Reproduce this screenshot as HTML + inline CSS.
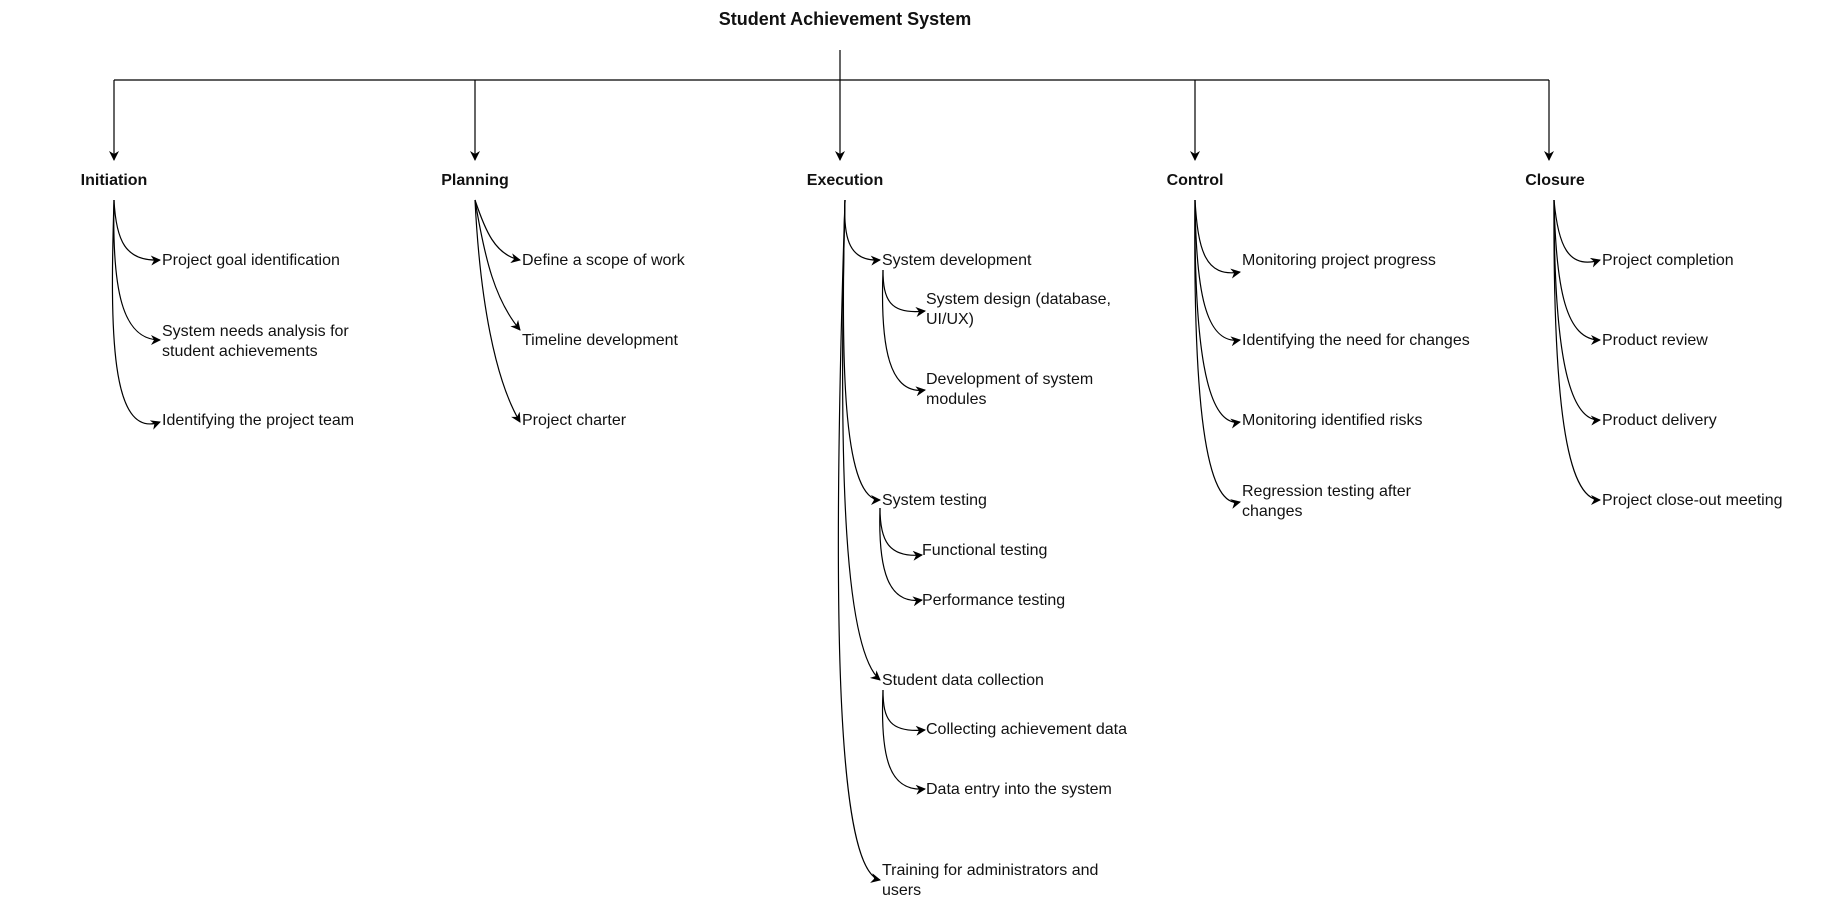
<!DOCTYPE html>
<html><head><meta charset="utf-8"><style>
html,body{margin:0;padding:0;background:#fff;}
svg{display:block;}
text{font-family:"Liberation Sans",Arial,sans-serif;font-size:16px;fill:#111;}
.b{font-weight:bold;}
</style></head><body>
<svg width="1830" height="900" viewBox="0 0 1830 900" xmlns="http://www.w3.org/2000/svg">
<defs>
<marker id="a" markerWidth="10" markerHeight="10" refX="9" refY="5" orient="auto" markerUnits="userSpaceOnUse">
<path d="M0,0 L10,5 L0,10 L3,5 z" fill="#000"/>
</marker>
</defs>
<g fill="none" stroke="#000" stroke-width="1.2">
<path d="M840 50 V160" marker-end="url(#a)"/>
<path d="M114 80 H1549"/>
<path d="M114 80 V160" marker-end="url(#a)"/>
<path d="M475 80 V160" marker-end="url(#a)"/>
<path d="M1195 80 V160" marker-end="url(#a)"/>
<path d="M1549 80 V160" marker-end="url(#a)"/>

<path d="M114 200 C116 240,125 262,160 260" marker-end="url(#a)"/>
<path d="M114 200 C112 290,122 340,160 340" marker-end="url(#a)"/>
<path d="M114 200 C110 330,110 440,160 422" marker-end="url(#a)"/>
<path d="M475 200 C485 230,495 255,520 260" marker-end="url(#a)"/>
<path d="M475 200 C485 260,495 300,520 330" marker-end="url(#a)"/>
<path d="M475 200 C480 300,495 380,520 422" marker-end="url(#a)"/>
<path d="M845 200 C843 240,850 262,880 260" marker-end="url(#a)"/>
<path d="M845 200 C840 380,845 500,880 500" marker-end="url(#a)"/>
<path d="M845 200 C838 480,845 650,880 680" marker-end="url(#a)"/>
<path d="M845 200 C832 600,835 870,880 880" marker-end="url(#a)"/>
<path d="M883 270 C883 300,890 315,925 311" marker-end="url(#a)"/>
<path d="M883 270 C880 350,890 395,925 390" marker-end="url(#a)"/>
<path d="M880 508 C880 540,888 558,922 555" marker-end="url(#a)"/>
<path d="M880 508 C878 570,888 605,922 600" marker-end="url(#a)"/>
<path d="M883 690 C883 720,890 733,925 730" marker-end="url(#a)"/>
<path d="M883 690 C880 760,890 792,925 789" marker-end="url(#a)"/>
<path d="M1195 200 C1198 250,1205 278,1240 272" marker-end="url(#a)"/>
<path d="M1195 200 C1196 290,1205 345,1240 340" marker-end="url(#a)"/>
<path d="M1195 200 C1194 340,1205 428,1240 422" marker-end="url(#a)"/>
<path d="M1195 200 C1193 400,1205 510,1240 502" marker-end="url(#a)"/>
<path d="M1554 200 C1558 245,1568 270,1600 260" marker-end="url(#a)"/>
<path d="M1554 200 C1556 290,1566 340,1600 340" marker-end="url(#a)"/>
<path d="M1554 200 C1554 340,1566 422,1600 420" marker-end="url(#a)"/>
<path d="M1554 200 C1553 400,1566 500,1600 500" marker-end="url(#a)"/>
</g>

<text class="b" x="845" y="25" text-anchor="middle" style="font-size:18px">Student Achievement System</text>
<text class="b" x="114" y="185" text-anchor="middle">Initiation</text>
<text class="b" x="475" y="185" text-anchor="middle">Planning</text>
<text class="b" x="845" y="185" text-anchor="middle">Execution</text>
<text class="b" x="1195" y="185" text-anchor="middle">Control</text>
<text class="b" x="1555" y="185" text-anchor="middle">Closure</text>

<text x="162" y="265">Project goal identification</text>
<text x="162" y="336">System needs analysis for</text>
<text x="162" y="356">student achievements</text>
<text x="162" y="425">Identifying the project team</text>

<text x="522" y="265">Define a scope of work</text>
<text x="522" y="345">Timeline development</text>
<text x="522" y="425">Project charter</text>

<text x="882" y="265">System development</text>
<text x="926" y="304">System design (database,</text>
<text x="926" y="324">UI/UX)</text>
<text x="926" y="384">Development of system</text>
<text x="926" y="404">modules</text>
<text x="882" y="505">System testing</text>
<text x="922" y="555">Functional testing</text>
<text x="922" y="605">Performance testing</text>
<text x="882" y="685">Student data collection</text>
<text x="926" y="734">Collecting achievement data</text>
<text x="926" y="794">Data entry into the system</text>
<text x="882" y="875">Training for administrators and</text>
<text x="882" y="895">users</text>

<text x="1242" y="265">Monitoring project progress</text>
<text x="1242" y="345">Identifying the need for changes</text>
<text x="1242" y="425">Monitoring identified risks</text>
<text x="1242" y="496">Regression testing after</text>
<text x="1242" y="516">changes</text>

<text x="1602" y="265">Project completion</text>
<text x="1602" y="345">Product review</text>
<text x="1602" y="425">Product delivery</text>
<text x="1602" y="505">Project close-out meeting</text>
</svg>
</body></html>
